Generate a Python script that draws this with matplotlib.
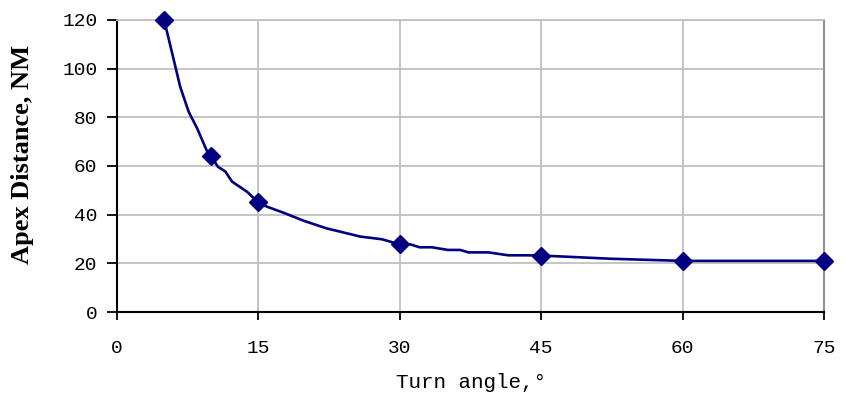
import matplotlib.pyplot as plt
import numpy as np

plt.rcParams.update({'font.size': 13})

# turn angle (deg) vs apex distance (NM), traced curve
angle_curve = [5, 5.6, 6.7, 7.6, 8.5, 9.5, 10, 10.7, 11.5, 12.2, 13.8, 15, 15.9, 17.8, 19.8,
               22.2, 25.8, 28.1, 29.8, 30, 31.1, 32.1, 33.4, 35.1, 36.4, 37.3, 39.4, 41.5,
               43.4, 45, 52.3, 60, 75]
dist_curve = [120, 110.4, 92.6, 82.3, 75.5, 66.5, 64, 59.7, 57.7, 53.6, 49.4, 45, 43.3, 40.6,
              37.5, 34.4, 31, 29.9, 28, 27.8, 27.8, 26.6, 26.6, 25.5, 25.5, 24.5, 24.5, 23.3,
              23.3, 23.2, 21.9, 21, 21]

# computed points shown with markers
angle_pts = [5, 10, 15, 30, 45, 60, 75]
dist_pts = [120, 64, 45, 27.8, 23.2, 21, 21]

x_ticks = [0, 15, 30, 45, 60, 75]
y_ticks = [0, 20, 40, 60, 80, 100, 120]

navy = '#000080'

fig = plt.figure(figsize=(8.46, 4.07), dpi=100)
ax = fig.add_axes([0.1383, 0.2334, 0.974 - 0.1383, 0.9509 - 0.2334])

ax.plot(angle_curve, dist_curve, color=navy, lw=1.9, zorder=3)
ax.plot(angle_pts, dist_pts, ls='none', marker='D', ms=9, color=navy,
        markeredgecolor=navy, zorder=4, clip_on=False)

ax.set_xlim(0, 75)
ax.set_ylim(0, 120)
ax.set_xticks(x_ticks)
ax.set_yticks(y_ticks)
ax.grid(True, color='#c0c0c0', lw=1.3)
ax.set_axisbelow(True)

tick_font = dict(family='Liberation Mono', size=14)
ax.set_xticklabels([str(v) for v in x_ticks], fontdict=tick_font)
ax.set_yticklabels([str(v) for v in y_ticks], fontdict=tick_font)
ax.tick_params(axis='x', direction='out', length=6, width=1.3, pad=14, colors='black')
ax.tick_params(axis='y', direction='out', length=7, width=1.3, pad=7, colors='black')

for side in ['left', 'bottom']:
    ax.spines[side].set_color('black')
    ax.spines[side].set_linewidth(1.5)
ax.spines['top'].set_color('#c0c0c0')
ax.spines['top'].set_linewidth(1.3)
ax.spines['right'].set_color('#909090')
ax.spines['right'].set_linewidth(1.5)

ax.set_xlabel('Turn angle,°', family='Liberation Mono', fontsize=15, labelpad=12)
fig.text(0.027, 0.62, 'Apex Distance, NM', family='Liberation Serif', fontweight='bold',
         fontsize=19, rotation=90, ha='center', va='center')

fig.savefig('out.png', dpi=100)
